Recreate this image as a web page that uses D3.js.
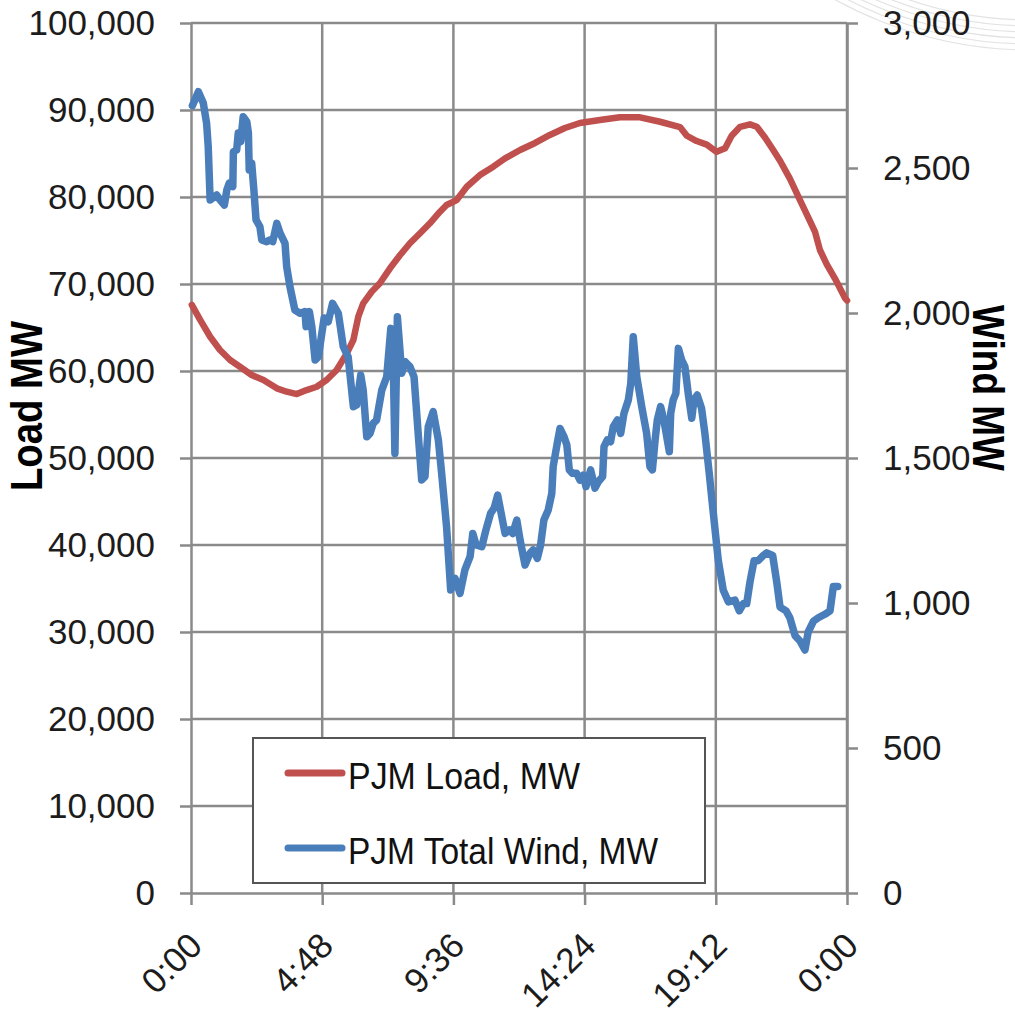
<!DOCTYPE html>
<html><head><meta charset="utf-8">
<script src="https://cdn.jsdelivr.net/npm/d3@7/dist/d3.min.js"></script>
<style>body{margin:0;background:#fff}svg{display:block}</style>
</head><body>
<svg id="c" width="1015" height="1014"></svg>
<script>
// ---- data ----
const timeTickHours = [0, 4.8, 9.6, 14.4, 19.2, 24];
const timeTickLabels = ["0:00", "4:48", "9:36", "14:24", "19:12", "0:00"];
const loadTicks = [0, 10000, 20000, 30000, 40000, 50000, 60000, 70000, 80000, 90000, 100000];
const windTicks = [0, 500, 1000, 1500, 2000, 2500, 3000];
const seriesNames = ["PJM Load, MW", "PJM Total Wind, MW"];

const loadHours = [0.03,0.33,0.70,1.06,1.43,1.79,2.22,2.65,3.14,3.50,3.87,4.23,4.60,4.96,5.33,5.70,5.94,6.12,6.30,6.61,6.91,7.28,7.65,8.01,8.38,8.74,9.11,9.35,9.72,10.09,10.57,11.06,11.49,12.04,12.59,13.13,13.68,14.23,14.96,15.69,16.43,17.16,17.89,18.14,18.50,18.87,19.23,19.54,19.78,20.09,20.45,20.70,21.00,21.30,21.55,21.91,22.28,22.65,22.83,23.01,23.26,23.56,23.93,24.0];
const loadMW = [67600,65900,63940,62410,61260,60490,59540,58960,58010,57620,57350,57810,58190,58960,60110,62030,63560,66240,67780,69110,70080,71800,73330,74680,75830,76980,78310,79080,79650,81180,82520,83480,84440,85400,86210,87130,87930,88510,88850,89160,89160,88650,88040,87040,86430,86020,85190,85610,87040,88070,88350,88070,86840,85400,84170,82110,79650,77190,75980,73910,72260,70620,68370,68100];

const windHours = [0.05,0.27,0.45,0.57,0.63,0.70,0.94,1.06,1.22,1.31,1.40,1.53,1.55,1.67,1.73,1.82,1.91,2.04,2.10,2.13,2.22,2.30,2.38,2.52,2.59,2.77,2.89,2.99,3.14,3.26,3.44,3.50,3.62,3.80,3.99,4.17,4.21,4.33,4.42,4.54,4.66,4.87,5.02,5.18,5.39,5.57,5.75,5.94,6.06,6.21,6.30,6.43,6.55,6.67,6.79,6.98,7.16,7.31,7.40,7.46,7.55,7.71,7.83,8.01,8.16,8.32,8.44,8.56,8.68,8.86,9.05,9.17,9.35,9.50,9.66,9.84,10.02,10.21,10.31,10.43,10.64,10.79,10.96,11.09,11.22,11.37,11.49,11.65,11.77,11.92,12.04,12.22,12.40,12.52,12.67,12.79,12.91,13.07,13.20,13.25,13.40,13.50,13.65,13.75,13.84,13.96,14.11,14.23,14.35,14.45,14.62,14.78,14.90,15.06,15.11,15.23,15.35,15.45,15.60,15.72,15.84,16.00,16.09,16.18,16.31,16.49,16.67,16.79,16.88,16.98,17.06,17.18,17.30,17.50,17.55,17.64,17.74,17.83,17.95,18.07,18.19,18.32,18.40,18.52,18.68,18.80,18.96,19.11,19.29,19.47,19.66,19.90,20.06,20.21,20.33,20.45,20.60,20.75,20.94,21.06,21.28,21.43,21.55,21.77,21.91,22.10,22.28,22.46,22.58,22.77,22.95,23.19,23.38,23.50,23.66];
const windMW = [2715,2763,2724,2655,2574,2390,2407,2390,2372,2424,2448,2436,2556,2562,2621,2591,2677,2660,2621,2493,2517,2424,2321,2298,2252,2246,2252,2246,2309,2275,2240,2160,2091,2010,1999,2005,1953,2005,1953,1838,1849,1983,1970,2033,1999,1884,1849,1677,1683,1786,1734,1573,1585,1620,1631,1734,1780,1947,1827,1516,1987,1792,1832,1815,1780,1573,1424,1436,1608,1660,1562,1447,1263,1045,1085,1033,1114,1160,1240,1200,1194,1252,1309,1327,1372,1298,1240,1252,1240,1286,1217,1131,1171,1183,1154,1200,1286,1321,1378,1470,1551,1602,1573,1545,1459,1447,1447,1424,1441,1401,1459,1396,1418,1436,1539,1562,1556,1608,1631,1585,1654,1700,1758,1918,1780,1677,1585,1470,1459,1562,1631,1677,1631,1522,1654,1700,1723,1878,1838,1815,1723,1637,1700,1717,1671,1585,1447,1309,1148,1045,1004,1010,973,998,998,1072,1146,1146,1164,1173,1164,1072,986,973,949,887,869,838,900,937,949,961,973,1057,1057];

// ---- chart ----
const FONT = "'Liberation Sans', Arial, Helvetica, sans-serif";
const GRID = "#8a8a8a";
const RED = "#C0504D", BLUE = "#4A7EBB";
const svg = d3.select("#c");
const P = {left: 191, right: 847, top: 23, bottom: 893};

const x = d3.scaleLinear().domain([0, 24]).range([P.left, P.right]);
const yL = d3.scaleLinear().domain([0, 100000]).range([P.bottom, P.top]);
const yR = d3.scaleLinear().domain([0, 3000]).range([P.bottom, P.top]);

// faint decorative arcs (slide background), top-right
const deco = svg.append("g").attr("fill", "none").attr("stroke", "#e3e3e3").attr("stroke-width", 1.2);
[372, 378, 384, 390, 396, 402].forEach(r => deco.append("circle").attr("cx", 1030).attr("cy", -352).attr("r", r));

// grid
const grid = svg.append("g").attr("stroke", GRID).attr("stroke-width", 2.5);
grid.selectAll("line.h").data(loadTicks.filter(d => d > 0)).join("line")
  .attr("x1", P.left).attr("x2", P.right)
  .attr("y1", d => yL(d)).attr("y2", d => yL(d));
grid.selectAll("line.v").data(timeTickHours.filter(d => d > 0)).join("line")
  .attr("x1", d => x(d)).attr("x2", d => x(d))
  .attr("y1", P.top).attr("y2", P.bottom);

function styleAxis(g) {
  g.select(".domain").attr("stroke", GRID).attr("stroke-width", 2.5);
  g.selectAll(".tick line").attr("stroke", GRID).attr("stroke-width", 2.5);
  g.selectAll(".tick text").attr("fill", "#1c1c1c").style("font-family", FONT).style("font-size", "35px");
}

const axL = svg.append("g").attr("transform", `translate(${P.left},0)`)
  .call(d3.axisLeft(yL).tickValues(loadTicks).tickFormat(d3.format(",")).tickSize(11).tickSizeOuter(0).tickPadding(25));
styleAxis(axL);

const axR = svg.append("g").attr("transform", `translate(${P.right},0)`)
  .call(d3.axisRight(yR).tickValues(windTicks).tickFormat(d3.format(",")).tickSize(11).tickSizeOuter(0).tickPadding(25));
styleAxis(axR);

const axB = svg.append("g").attr("transform", `translate(0,${P.bottom})`)
  .call(d3.axisBottom(x).tickValues(timeTickHours).tickFormat((d, i) => timeTickLabels[i]).tickSize(12).tickSizeOuter(0));
styleAxis(axB);
axB.selectAll(".tick text")
  .attr("text-anchor", "end").attr("x", 0).attr("y", 0).attr("dy", "0.35em")
  .attr("transform", "translate(4,46) rotate(-45)");

// lines
const idxL = d3.range(loadHours.length);
const idxW = d3.range(windHours.length);
svg.append("path").datum(idxL)
  .attr("fill", "none").attr("stroke", RED).attr("stroke-width", 6.5)
  .attr("stroke-linejoin", "round").attr("stroke-linecap", "round")
  .attr("d", d3.line().x(i => x(loadHours[i])).y(i => yL(loadMW[i])));
svg.append("path").datum(idxW)
  .attr("fill", "none").attr("stroke", BLUE).attr("stroke-width", 7.5)
  .attr("stroke-linejoin", "round").attr("stroke-linecap", "round")
  .attr("d", d3.line().x(i => x(windHours[i])).y(i => yR(windMW[i])));

// axis titles
svg.append("text").text("Load MW")
  .attr("transform", "translate(42,406) rotate(-90)")
  .attr("text-anchor", "middle").attr("textLength", 170).attr("lengthAdjust", "spacingAndGlyphs")
  .style("font-family", FONT).style("font-weight", "bold").style("font-size", "45px").attr("fill", "#000");
svg.append("text").text("Wind MW")
  .attr("transform", "translate(973,388) rotate(90)")
  .attr("text-anchor", "middle").attr("textLength", 166).attr("lengthAdjust", "spacingAndGlyphs")
  .style("font-family", FONT).style("font-weight", "bold").style("font-size", "45px").attr("fill", "#000");

// legend
const lg = svg.append("g");
lg.append("rect").attr("x", 253).attr("y", 738).attr("width", 452).attr("height", 145)
  .attr("fill", "#fff").attr("stroke", "#555").attr("stroke-width", 2);
const legendColors = [RED, BLUE];
const legendY = [773, 848];
const legendLen = [232, 310];
seriesNames.forEach((name, i) => {
  lg.append("line").attr("x1", 288).attr("x2", 342).attr("y1", legendY[i]).attr("y2", legendY[i])
    .attr("stroke", legendColors[i]).attr("stroke-width", 7).attr("stroke-linecap", "round");
  lg.append("text").text(name).attr("x", 348).attr("y", legendY[i] + 16)
    .attr("textLength", legendLen[i]).attr("lengthAdjust", "spacingAndGlyphs")
    .style("font-family", FONT).style("font-size", "37px").attr("fill", "#111");
});
</script>
</body></html>
